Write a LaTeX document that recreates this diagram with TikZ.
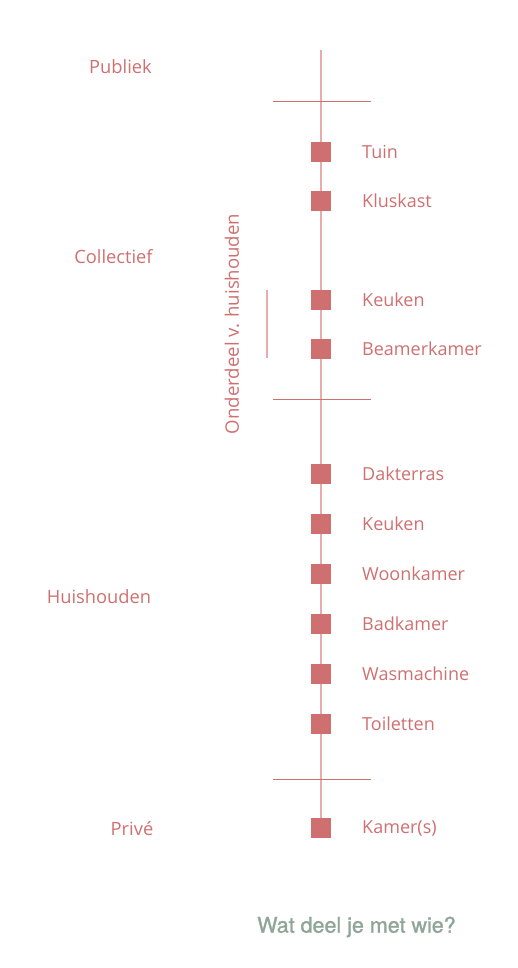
\documentclass[tikz,border=0pt]{standalone}
\usepackage{fontspec}
\setmainfont{Open Sans}
\newfontfamily\titlefont[FakeBold=1.2]{TeX Gyre Heros}
\definecolor{rosa}{HTML}{CF7070}
\definecolor{rosalight}{HTML}{E8ACAE}
\definecolor{grijs}{HTML}{8FA59B}
\tikzset{
  sq/.style={fill=rosa, minimum width=20pt, minimum height=20pt, inner sep=0pt},
  rlab/.style={anchor=west, text=rosa, font=\fontsize{18}{20}\selectfont, inner sep=0pt},
  llab/.style={text=rosa, font=\fontsize{18.3}{20}\selectfont, inner sep=0pt},
  sep/.style={draw=rosa, line width=1pt},
  axis/.style={draw=rosalight, line width=2pt},
}
\begin{document}
\begin{tikzpicture}[x=1pt,y=-1pt]
\useasboundingbox (0,0) rectangle (518,968);
\coordinate (top) at (321,50);
\coordinate (bot) at (321,820);
\draw[axis] (top) -- (bot);
\node[sq] (s1) at (321,152) {};
\node[sq] (s2) at (321,201) {};
\node[sq] (s3) at (321,300) {};
\node[sq] (s4) at (321,349) {};
\node[sq] (s5) at (321,474) {};
\node[sq] (s6) at (321,524) {};
\node[sq] (s7) at (321,574) {};
\node[sq] (s8) at (321,624) {};
\node[sq] (s9) at (321,674) {};
\node[sq] (s10) at (321,724) {};
\node[sq] (s11) at (321,828) {};
\coordinate (h1a) at (273,102); \coordinate (h1b) at (371,102);
\coordinate (h2a) at (273,399); \coordinate (h2b) at (371,399);
\coordinate (h3a) at (273,779); \coordinate (h3b) at (371,779);
\draw[sep] (h1a) -- (h1b);
\draw[sep] (h2a) -- (h2b);
\draw[sep] (h3a) -- (h3b);
\node[rlab] (t1) at (362,152) {Tuin};
\node[rlab] (t2) at (362,201) {Kluskast};
\node[rlab] (t3) at (362,300) {Keuken};
\node[rlab] (t4) at (362,349) {Beamerkamer};
\node[rlab] (t5) at (362,474) {Dakterras};
\node[rlab] (t6) at (362,524) {Keuken};
\node[rlab] (t7) at (362,574) {Woonkamer};
\node[rlab] (t8) at (362,624) {Badkamer};
\node[rlab] (t9) at (362,674) {Wasmachine};
\node[rlab] (t10) at (362,724) {Toiletten};
\node[rlab] (t11) at (362,828) {Kamer(s)};
\node[llab] (l1) at (120.5,67) {Publiek};
\node[llab] (l2) at (113.5,257) {Collectief};
\node[llab] (l3) at (99,597) {Huishouden};
\node[llab] (l4) at (132,829) {Privé};
\node[text=rosa, font=\fontsize{18.6}{20}\selectfont, inner sep=0pt, rotate=90] (ond) at (232,324) {Onderdeel v. huishouden};
\coordinate (va) at (267,290); \coordinate (vb) at (267,358);
\draw[axis, line width=1.5pt] (va) -- (vb);
\node[text=grijs, font=\titlefont\fontsize{21.5}{22}\selectfont, inner sep=0pt] (title) at (356.5,927) {Wat deel je met wie?};
\end{tikzpicture}
\end{document}
